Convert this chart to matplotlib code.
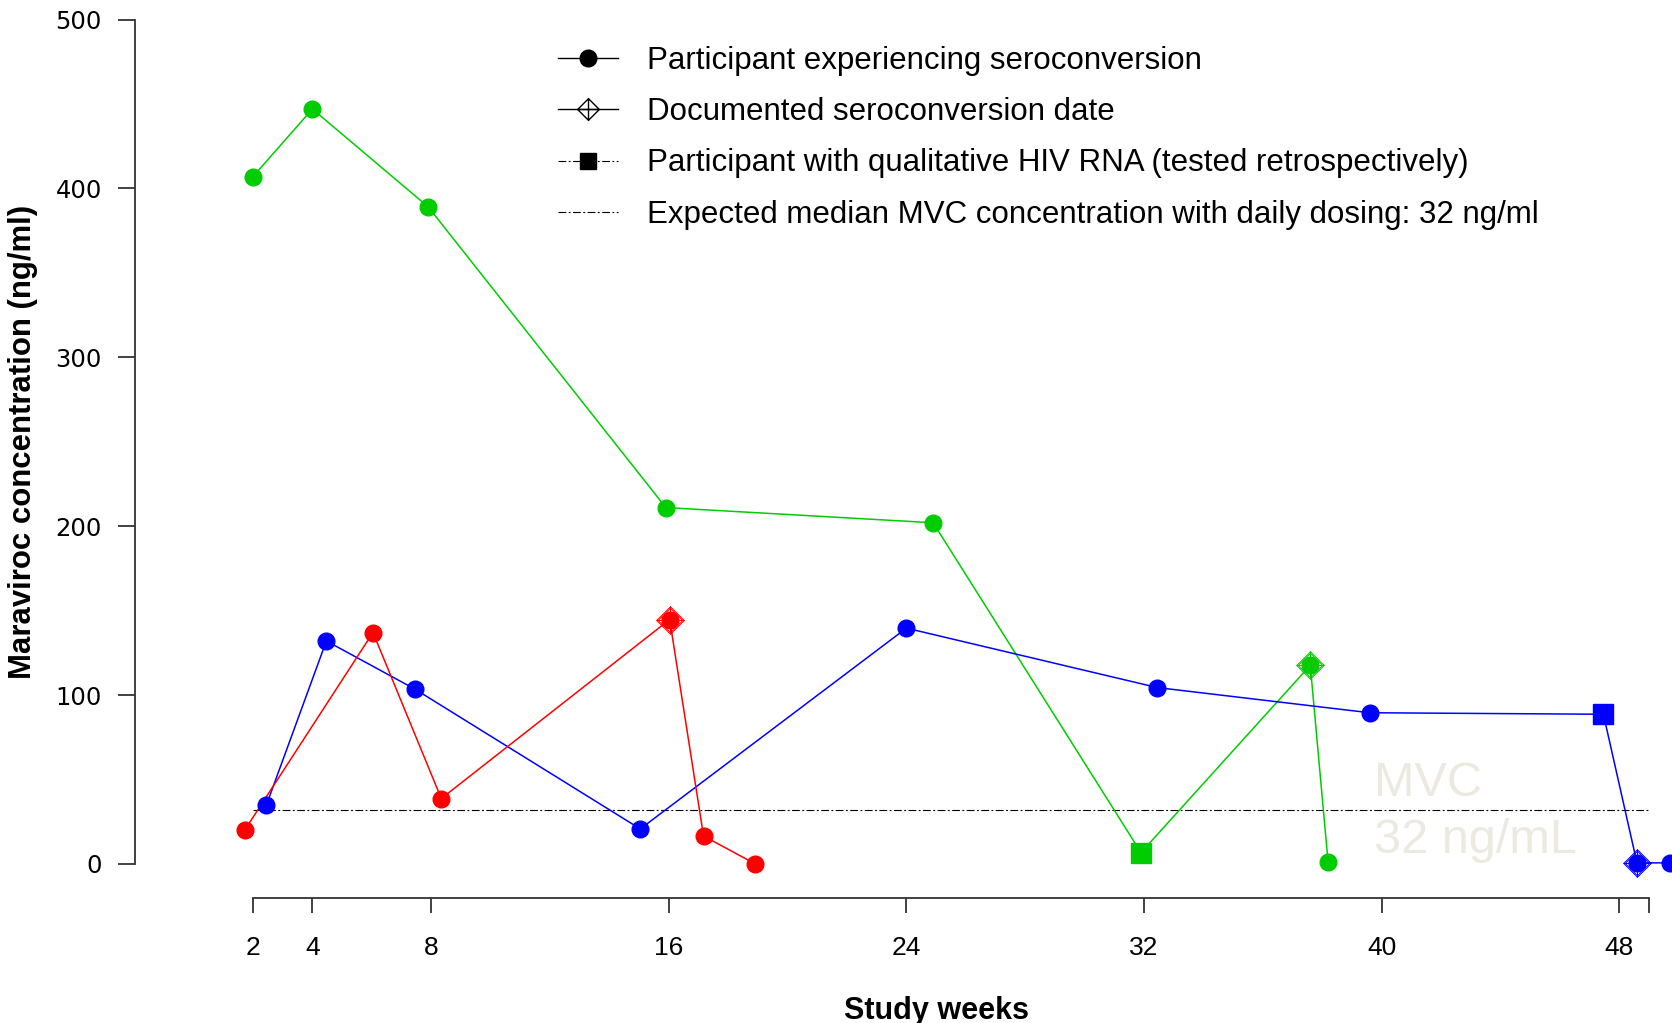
import matplotlib
matplotlib.use("Agg")
import matplotlib.pyplot as plt
from matplotlib.lines import Line2D
from matplotlib.path import Path

plt.rcParams['font.family'] = ['Liberation Sans', 'DejaVu Sans']

# data: study week, maraviroc concentration (ng/ml)
green_weeks = [2.0, 4.0, 7.9, 15.9, 24.9, 31.9, 37.6, 38.2]
green_conc = [407, 447, 389, 211, 202, 6.7, 117.6, 1.0]
green_sc = [6]       # documented seroconversion date
green_rna = [5]      # qualitative HIV RNA (retrospective)

blue_weeks = [2.45, 4.47, 7.46, 15.04, 24.0, 32.45, 39.6, 47.47, 48.6, 49.7]
blue_conc = [34.8, 132, 103.4, 20.7, 139.6, 104.4, 89.5, 88.6, 0.6, 0.6]
blue_sc = [8]
blue_rna = [7]

red_weeks = [1.72, 6.04, 8.34, 16.03, 17.17, 18.89]
red_conc = [20, 137, 38.7, 144.7, 16.5, 0.2]
red_sc = [3]
red_rna = []

mvc_median = 32
week_ticks = [2, 4, 8, 16, 24, 32, 40, 48, 49]
week_labels = ['2', '4', '8', '16', '24', '32', '40', '48', '']
conc_ticks = [0, 100, 200, 300, 400, 500]

participants = [
    (green_weeks, green_conc, green_sc, green_rna, '#00CD00'),
    (blue_weeks, blue_conc, blue_sc, blue_rna, '#0000FF'),
    (red_weeks, red_conc, red_sc, red_rna, '#FF0000'),
]

# R style pch 9: diamond with a cross inside
dplus = Path([(0, 1), (1, 0), (0, -1), (-1, 0), (0, 1), (-1, 0), (1, 0), (0, -1), (0, 1)],
             [Path.MOVETO, Path.LINETO, Path.LINETO, Path.LINETO, Path.CLOSEPOLY,
              Path.MOVETO, Path.LINETO, Path.MOVETO, Path.LINETO])

dash_dot = (0, (7, 2.2, 1.7, 2.2))

fig = plt.figure(figsize=(16.72, 10.23), dpi=100)
ax = fig.add_axes([135.4 / 1672, 1 - 898 / 1023, 1 - 135.4 / 1672, (898 - 19.5) / 1023])
ax.set_xlim(-1.96, 49.78)
ax.set_ylim(-20.2, 500)

ax.plot([2, 49], [mvc_median, mvc_median], color='black', lw=0.8, linestyle=dash_dot)

for wk, cc, sc, rna, col in participants:
    ax.plot(wk, cc, color=col, lw=1.1, zorder=3, clip_on=False)
    circ = [i for i in range(len(wk)) if i not in rna]
    ax.plot([wk[i] for i in circ], [cc[i] for i in circ], 'o', color=col, ms=12,
            mec=col, zorder=4, clip_on=False)
    if rna:
        ax.plot([wk[i] for i in rna], [cc[i] for i in rna], 's', color=col, ms=15,
                mec=col, zorder=4)
    for size in (19.8, 17.6):
        ax.plot([wk[i] for i in sc], [cc[i] for i in sc], linestyle='none', marker=dplus,
                ms=size, mfc='none', mec=col, mew=0.7, zorder=5)

ax.text(39.75, 40.1, 'MVC', fontsize=35, color='#ECEAE0', zorder=1, va='baseline')
ax.text(39.75, 6.2, '32 ng/mL', fontsize=35, color='#ECEAE0', zorder=1, va='baseline')

for s in ['top', 'right']:
    ax.spines[s].set_visible(False)
ax.spines['left'].set_bounds(0, 500)
ax.spines['bottom'].set_bounds(2, 49)
for s in ['left', 'bottom']:
    ax.spines[s].set_color('#333333')
    ax.spines[s].set_linewidth(1.3)

ax.set_yticks(conc_ticks)
ax.set_yticklabels([str(v) for v in conc_ticks], family='DejaVu Sans', fontsize=17.5)
ax.set_xticks(week_ticks)
ax.set_xticklabels(week_labels, fontsize=19)
ax.tick_params(axis='y', length=12.2, width=1.3, color='#333333', pad=12)
ax.tick_params(axis='x', length=10.8, width=1.3, color='#333333', pad=16.5)

fig.text(23 / 1672, 1 - 442 / 1023, 'Maraviroc concentration (ng/ml)', rotation=90,
         ha='center', va='center', fontsize=22.4, fontweight='bold')
fig.text(936.5 / 1672, 4 / 1023, 'Study weeks', ha='center', va='baseline',
         fontsize=22, fontweight='bold')

handles = [
    Line2D([], [], color='black', lw=1.0, marker='o', ms=12),
    Line2D([], [], color='black', lw=1.0, marker=dplus, ms=15.6, mfc='none', mew=1.0),
    Line2D([], [], color='black', lw=0.8, linestyle=dash_dot, marker='s', ms=11.5),
    Line2D([], [], color='black', lw=0.8, linestyle=dash_dot),
]
labels = [
    'Participant experiencing seroconversion',
    'Documented seroconversion date',
    'Participant with qualitative HIV RNA (tested retrospectively)',
    'Expected median MVC concentration with daily dosing: 32 ng/ml',
]
fig.legend(handles, labels, loc='upper left', bbox_to_anchor=(558 / 1672, 1 - 46 / 1023),
           frameon=False, fontsize=22.5, handlelength=1.92, handletextpad=0.93,
           labelspacing=0.68, borderpad=0, borderaxespad=0)

fig.savefig('out.png', dpi=100)
